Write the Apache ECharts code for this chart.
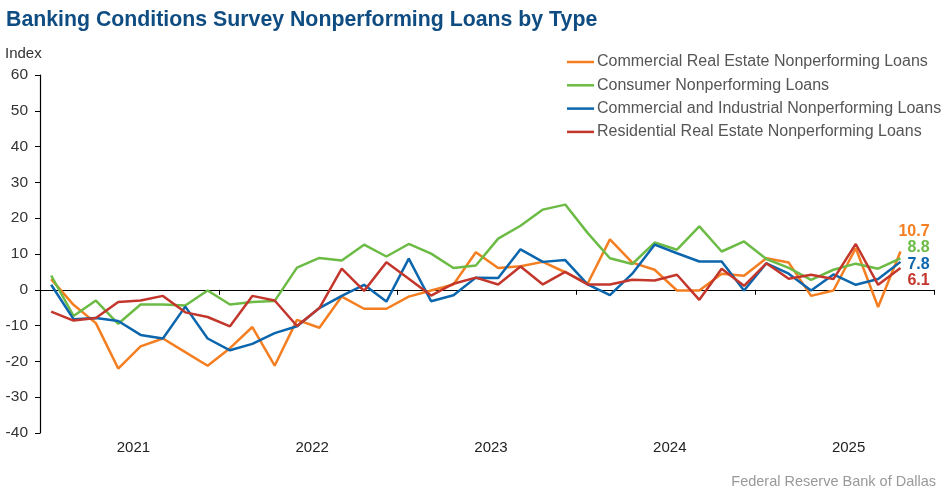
<!DOCTYPE html>
<html><head><meta charset="utf-8">
<script src="https://cdn.jsdelivr.net/npm/echarts@6/dist/echarts.min.js"></script>
<style>html,body{margin:0;padding:0;background:#fff}#c{width:949px;height:493px}</style>
</head><body><div id="c"></div>
<script>
// Survey periods: eight surveys per year
const years = ['2021', '2022', '2023', '2024', '2025'];
const periods = [];
years.forEach(y => { for (let i = 1; i <= 8; i++) periods.push(y + ' survey ' + i); });

const yTicks = { min: -40, max: 60, interval: 10 };

const creNPL = [3.0, -4.2, -9.3, -22.0, -15.8, -13.6, -17.4, -21.2, -16.3, -10.4,
  -21.2, -8.4, -10.6, -1.9, -5.3, -5.3, -1.9, -0.2, 1.5, 10.5,
  6.1, 6.6, 7.8, 4.9, 1.7, 14.1, 7.6, 5.6, -0.2, -0.2,
  4.5, 3.9, 8.8, 7.6, -1.7, -0.2, 11.6, -4.8, 10.7];
const consumerNPL = [4.0, -7.3, -3.0, -9.5, -4.1, -4.1, -4.4, -0.2, -4.1, -3.4,
  -3.1, 6.2, 8.9, 8.2, 12.6, 9.3, 12.8, 10.1, 6.1, 6.8,
  14.3, 17.9, 22.4, 23.8, 15.9, 8.8, 7.2, 13.2, 11.2, 17.7,
  10.7, 13.5, 8.6, 6.1, 2.8, 5.6, 7.3, 5.9, 8.8];
const ciNPL = [1.4, -8.2, -7.9, -8.7, -12.6, -13.6, -4.7, -13.6, -16.9, -15.1,
  -12.1, -10.2, -5.1, -1.7, 1.4, -3.3, 8.7, -3.2, -1.5, 3.4,
  3.3, 11.3, 7.8, 8.3, 1.5, -1.5, 4.5, 12.6, 10.2, 7.9,
  7.9, -0.2, 7.4, 4.5, -0.2, 4.3, 1.4, 3.0, 7.8];
const rreNPL = [-6.1, -8.6, -7.9, -3.4, -3.0, -1.7, -6.3, -7.6, -10.2, -1.7,
  -3.0, -10.1, -5.1, 5.9, -0.3, 7.7, 3.1, -1.6, 1.7, 3.4,
  1.5, 6.5, 1.5, 5.0, 1.5, 1.5, 2.8, 2.6, 4.2, -2.8,
  5.9, 1.1, 7.4, 3.1, 4.2, 3.0, 12.8, 1.4, 6.1];

const seriesDefs = [
  { name: 'Commercial Real Estate Nonperforming Loans', data: creNPL, color: '#F47E20', off: [-10, -20] },
  { name: 'Consumer Nonperforming Loans', data: consumerNPL, color: '#6CBB45', off: [-1, -11] },
  { name: 'Commercial and Industrial Nonperforming Loans', data: ciNPL, color: '#0B66AD', off: [-1, 3] },
  { name: 'Residential Real Estate Nonperforming Loans', data: rreNPL, color: '#C3362C', off: [-1, 13] }
];

const FONT = '"Liberation Sans", Arial, sans-serif';
const chart = echarts.init(document.getElementById('c'), null, { renderer: 'canvas' });
chart.setOption({
  backgroundColor: '#fff',
  animation: false,
  textStyle: { fontFamily: FONT },
  title: [
    { text: 'Banking Conditions Survey Nonperforming Loans by Type', left: 1, top: 5,
      textStyle: { fontFamily: FONT, fontSize: 21.3, fontWeight: 'bold', color: '#0E4C82' } },
    { text: 'Index', left: 0, top: 41, textStyle: { fontFamily: FONT, fontSize: 15, fontWeight: 'normal', color: '#333' } },
    { text: 'Federal Reserve Bank of Dallas', right: 8, top: 469,
      textStyle: { fontFamily: FONT, fontSize: 14.5, fontWeight: 'normal', color: '#999' } }
  ],
  legend: {
    orient: 'vertical', left: 567, top: 53, padding: 0,
    icon: 'rect', itemWidth: 27, itemHeight: 2.5, itemGap: 5.3,
    textStyle: { fontFamily: FONT, fontSize: 16, color: '#555', lineHeight: 18, padding: [0, 0, 0, -2] },
    data: seriesDefs.map(s => s.name)
  },
  grid: { left: 40, right: 15, top: 75, bottom: 60, containLabel: false },
  xAxis: [
    { type: 'category', data: periods, boundaryGap: true,
      axisLine: { onZero: true, lineStyle: { color: '#000', width: 1.2 } },
      axisTick: { show: true, interval: 7, inside: false, length: 5, lineStyle: { color: '#000' } },
      axisLabel: { show: false }, splitLine: { show: false } },
    { type: 'category', data: years, boundaryGap: true, position: 'bottom',
      axisLine: { show: false }, axisTick: { show: false },
      axisLabel: { fontFamily: FONT, fontSize: 15, color: '#222', margin: 7, padding: [0, 0, 0, 8] },
      splitLine: { show: false } }
  ],
  yAxis: {
    type: 'value', min: yTicks.min, max: yTicks.max, interval: yTicks.interval,
    axisLine: { show: true, lineStyle: { color: '#000', width: 1.2 } },
    axisTick: { show: true, inside: false, length: 5, lineStyle: { color: '#000' } },
    axisLabel: { fontFamily: FONT, fontSize: 15.5, color: '#333', margin: 12 },
    splitLine: { show: false }
  },
  series: seriesDefs.map(s => ({
    name: s.name, type: 'line', data: s.data, xAxisIndex: 0,
    symbol: 'none', smooth: false,
    lineStyle: { color: s.color, width: 2.5 },
    itemStyle: { color: s.color },
    endLabel: { show: true, formatter: p => Number(p.value).toFixed(1), offset: s.off,
      fontFamily: FONT, fontSize: 16, fontWeight: 'bold', color: s.color }
  }))
});
</script></body></html>
